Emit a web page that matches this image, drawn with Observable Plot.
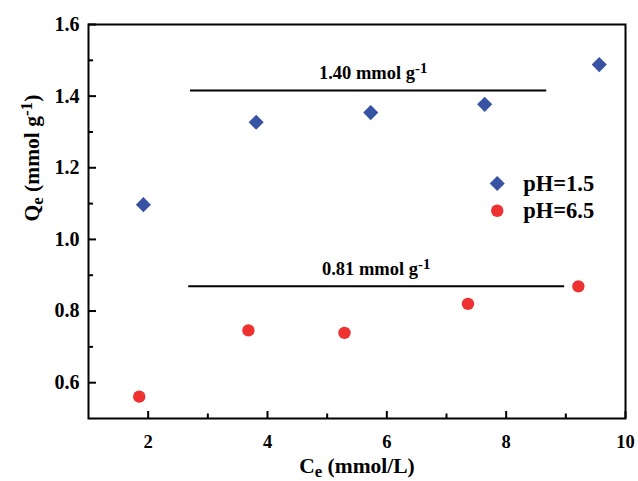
<!DOCTYPE html>
<html>
<head>
<meta charset="utf-8">
<script src="https://cdn.jsdelivr.net/npm/d3@7"></script>
<script src="https://cdn.jsdelivr.net/npm/@observablehq/plot@0.6"></script>
<style>
  html, body { margin: 0; padding: 0; background: #fff; }
  #chart { width: 638px; height: 481px; }
</style>
</head>
<body>
<div id="chart"></div>
<script>
// ---- data ----
const blueX = [1.92, 3.81, 5.73, 7.64, 9.56];
const blueY = [1.097, 1.327, 1.354, 1.377, 1.488];
const redX = [1.85, 3.68, 5.29, 7.36, 9.21];
const redY = [0.561, 0.746, 0.739, 0.820, 0.869];

const lineLabels = ["1.40 mmol g-1", "0.81 mmol g-1"];
const lineX1 = [2.71, 2.68];
const lineX2 = [8.68, 8.98];
const lineY = [1.416, 0.869];
const labelX = [5.77, 5.82];

const legendLabels = ["pH=1.5", "pH=6.5"];
const legendSymbols = ["diamond2", "circle"];
const legendX = [7.85, 7.85];
const legendY = [1.156, 1.080];

const xMajor = [2, 4, 6, 8, 10];
const xMinor = [3, 5, 7, 9];
const yMajor = [0.6, 0.8, 1.0, 1.2, 1.4, 1.6];
const yMinor = [0.7, 0.9, 1.1, 1.3, 1.5];

const xTitle = "Ce (mmol/L)";
const yTitle = "Qe (mmol g-1)";

const BLUE = "#3953a4";
const RED = "#ee3131";
const FONT = "'Liberation Serif', 'Times New Roman', serif";

const blue = blueX.map((x, i) => ({x, y: blueY[i]}));
const red = redX.map((x, i) => ({x, y: redY[i]}));
const idx = d3.range(lineLabels.length);
const lidx = d3.range(legendLabels.length);
const legendColors = [BLUE, RED];
const legendR = [6.8, 6.2];

const legendDots = lidx.map(i => Plot.dot([i], {
  x: j => legendX[j], y: j => legendY[j],
  symbol: legendSymbols[i], r: legendR[i], fill: legendColors[i], stroke: "none"
}));

const chart = Plot.plot({
  width: 638,
  height: 481,
  marginLeft: 88,
  marginRight: 13,
  marginTop: 24,
  marginBottom: 63,
  x: {domain: [1, 10]},
  y: {domain: [0.5, 1.6]},
  style: {fontFamily: FONT, fontWeight: "bold", color: "#000", background: "#fff", overflow: "visible"},
  marks: [
    // tick labels
    Plot.axisX(xMajor, {tickSize: 0, tickPadding: 16.5, fontSize: 18.5, label: null, tickFormat: d => String(d)}),
    Plot.axisY(yMajor, {tickSize: 0, tickPadding: 9, fontSize: 20, label: null, tickFormat: d => d.toFixed(1)}),
    // inward ticks
    Plot.axisX(xMajor, {tickSize: -7, strokeWidth: 2, tickFormat: () => "", label: null}),
    Plot.axisX(xMinor, {tickSize: -4.5, strokeWidth: 2, tickFormat: () => "", label: null}),
    Plot.axisY(yMajor, {tickSize: -8, strokeWidth: 2, tickFormat: () => "", label: null}),
    Plot.axisY(yMinor, {tickSize: -5, strokeWidth: 2, tickFormat: () => "", label: null}),
    Plot.frame({stroke: "#000", strokeWidth: 2}),
    // horizontal average lines
    Plot.ruleY(idx, {y: i => lineY[i], x1: i => lineX1[i], x2: i => lineX2[i], stroke: "#000", strokeWidth: 2}),
    Plot.text(idx, {x: i => labelX[i], y: i => lineY[i], text: i => lineLabels[i], dy: -17, fontSize: 18.5, fontWeight: "bold", fill: "#000"}),
    // data
    Plot.dot(blue, {x: "x", y: "y", symbol: "diamond2", r: 6.8, fill: BLUE, stroke: "none"}),
    Plot.dot(red, {x: "x", y: "y", symbol: "circle", r: 6.2, fill: RED, stroke: "none"}),
    // legend
    ...legendDots,
    Plot.text(lidx, {x: i => legendX[i], y: i => legendY[i], text: i => legendLabels[i], dx: 26, textAnchor: "start", fontSize: 22.5, fontWeight: "bold", fill: "#000"}),
    // axis titles
    Plot.text([xTitle], {frameAnchor: "bottom", dy: 54, text: d => d, fontSize: 21.5, fontWeight: "bold", fill: "#000"}),
    Plot.text([yTitle], {frameAnchor: "left", dx: -56, rotate: -90, text: d => d, fontSize: 21.5, fontWeight: "bold", fill: "#000"})
  ]
});

document.getElementById("chart").appendChild(chart);

// rich text: subscripts and superscripts
function rich(el, parts) {
  while (el.firstChild) el.removeChild(el.firstChild);
  for (const p of parts) {
    const ts = document.createElementNS("http://www.w3.org/2000/svg", "tspan");
    ts.textContent = p.t;
    if (p.sub) { ts.setAttribute("baseline-shift", "-25%"); ts.setAttribute("font-size", "78%"); }
    if (p.sup) { ts.setAttribute("baseline-shift", "42%"); ts.setAttribute("font-size", "80%"); }
    el.appendChild(ts);
  }
}
chart.querySelectorAll("text").forEach(el => {
  const s = el.textContent;
  if (s === xTitle) rich(el, [{t: "C"}, {t: "e", sub: true}, {t: " (mmol/L)"}]);
  else if (s === yTitle) rich(el, [{t: "Q"}, {t: "e", sub: true}, {t: " (mmol g"}, {t: "-1", sup: true}, {t: ")"}]);
  else if (/ g-1$/.test(s)) rich(el, [{t: s.slice(0, -2)}, {t: "-1", sup: true}]);
});
</script>
</body>
</html>
